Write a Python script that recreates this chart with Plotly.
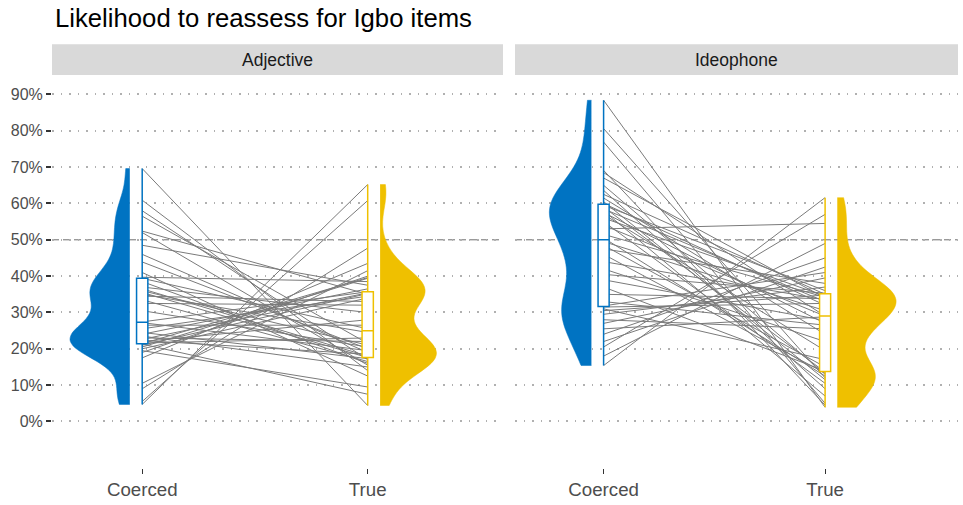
import numpy as np
import plotly.graph_objects as go

# Per-item likelihood to reassess (%), paired by item within each panel
panels = ["Adjective", "Ideophone"]
conditions = ["Coerced", "True"]

adj_coerced = [69.6, 60.9, 58.0, 56.5, 52.4, 52.0, 48.5, 46.0, 43.9, 41.0, 39.7, 39.4,
               38.5, 37.0, 36.5, 36.0, 35.5, 35.0, 34.5, 33.5, 32.5, 30.5, 27.4, 27.2,
               26.5, 25.5, 24.5, 24.0, 23.5, 23.0, 22.6, 22.3, 22.0, 21.6, 21.4, 21.3,
               21.0, 20.5, 20.0, 19.5, 19.0, 17.5, 10.5, 9.0, 5.5, 4.7]
adj_true = [4.4, 14.0, 17.0, 21.5, 35.0, 15.5, 37.5, 19.0, 20.0, 12.5, 38.5, 25.5,
            16.0, 30.0, 18.0, 21.0, 17.6, 24.5, 33.0, 16.5, 32.0, 20.5, 35.7, 19.5,
            26.5, 34.5, 17.3, 36.5, 15.0, 22.0, 35.4, 18.5, 28.0, 23.0, 39.6, 7.5,
            35.2, 39.4, 34.0, 9.5, 40.0, 43.5, 41.5, 47.7, 60.8, 65.2]

ideo_coerced = [88.4, 80.6, 76.9, 68.5, 69.1, 67.0, 65.0, 63.6, 62.5, 61.5, 60.5, 60.0,
                59.5, 59.0, 58.5, 58.0, 57.5, 57.0, 56.0, 55.0, 54.0, 53.0, 51.5, 50.5,
                49.5, 48.5, 47.5, 46.0, 44.0, 42.0, 40.5, 39.0, 37.0, 35.0, 33.0, 31.8,
                31.5, 31.0, 30.5, 29.5, 28.0, 27.0, 25.5, 24.0, 22.0, 20.5, 18.0, 15.4]
ideo_true = [3.9, 12.0, 5.0, 29.0, 4.5, 34.0, 13.0, 9.0, 35.0, 24.0, 11.5, 32.0,
             36.0, 13.6, 33.0, 7.0, 27.0, 19.5, 34.5, 10.5, 29.0, 54.5, 34.2, 12.5,
             30.5, 15.0, 38.0, 13.3, 33.5, 22.0, 35.3, 27.8, 13.9, 33.8, 26.5, 41.0,
             32.5, 17.0, 34.8, 37.0, 25.5, 39.5, 28.8, 45.0, 42.5, 57.0, 49.0, 61.6]

y_ticks = [0, 10, 20, 30, 40, 50, 60, 70, 80, 90]
y_tick_labels = [f"{v}%" for v in y_ticks]
reference_level = 50

BLUE = "#0073C2"
YELLOW = "#EFC000"
FONT = "Liberation Sans, Arial, sans-serif"

# half-violin max extent (data units) per panel/condition
violin_widths = {("Adjective", "Coerced"): 0.53, ("Adjective", "True"): 0.50,
                 ("Ideophone", "Coerced"): 0.38, ("Ideophone", "True"): 0.53}
bw_adjust = 0.8


def nrd0(values):
    v = np.asarray(values, dtype=float)
    iqr = np.subtract(*np.percentile(v, [75, 25]))
    return 0.9 * min(v.std(ddof=1), iqr / 1.34) * len(v) ** -0.2


data = {
    "Adjective": (adj_coerced, adj_true),
    "Ideophone": (ideo_coerced, ideo_true),
}

fig = go.Figure()

# lines live on the base axes; boxes and violins on overlaying axes drawn on top
base_axes = [("x", "y"), ("x2", "y2")]
top_axes = [("x3", "y3"), ("x4", "y4")]

for i, panel in enumerate(panels):
    xa, ya = base_axes[i]
    xt, yt = top_axes[i]
    coerced, true_vals = data[panel]

    lx, ly = [], []
    for c, t in zip(coerced, true_vals):
        lx += [1, 2, None]
        ly += [c, t, None]
    fig.add_trace(go.Scatter(x=lx, y=ly, mode="lines", xaxis=xa, yaxis=ya,
                             line=dict(color="#7A7A7A", width=1),
                             hoverinfo="skip", showlegend=False))

    for pos, (cond, vals, col) in enumerate(zip(conditions, (coerced, true_vals), (BLUE, YELLOW)), start=1):
        fig.add_trace(go.Box(y=vals, x0=pos, width=0.05, xaxis=xt, yaxis=yt,
                             fillcolor="white", line=dict(color=col, width=1.5),
                             boxpoints=False, whiskerwidth=0, quartilemethod="linear",
                             hoverinfo="skip", showlegend=False))
        side = "negative" if cond == "Coerced" else "positive"
        offset = -0.055 if cond == "Coerced" else 0.055
        fig.add_trace(go.Violin(y=vals, x0=pos + offset, side=side,
                                width=violin_widths[(panel, cond)],
                                xaxis=xt, yaxis=yt, fillcolor=col,
                                line=dict(color=col, width=0.5), points=False,
                                spanmode="hard", bandwidth=bw_adjust * nrd0(vals),
                                box_visible=False, meanline_visible=False,
                                scalemode="width", opacity=1,
                                hoverinfo="skip", showlegend=False))

    # reference line at 50%
    fig.add_shape(type="line", xref=xa, yref=ya, x0=0.6, x1=2.6,
                  y0=reference_level, y1=reference_level, layer="below",
                  line=dict(color="#6E6E6E", width=1, dash="7px,4px"))

# facet strips
W, H = 963, 505
ml, mr, mt, mb = 52, 5, 77, 34
pw, ph = W - ml - mr, H - mt - mb
dom_left = [0, (503 - ml) / pw]
dom_right = [(515 - ml) / pw, 1]
strip_y0 = (H - mb - 75) / ph
strip_y1 = (H - mb - 44) / ph
for dom, panel in zip((dom_left, dom_right), panels):
    fig.add_shape(type="rect", xref="paper", yref="paper", x0=dom[0], x1=dom[1],
                  y0=strip_y0, y1=strip_y1, fillcolor="#D9D9D9", line=dict(width=0),
                  layer="below")
    fig.add_annotation(text=panel, xref="paper", yref="paper", x=(dom[0] + dom[1]) / 2,
                       y=(strip_y0 + strip_y1) / 2, showarrow=False,
                       font=dict(family=FONT, size=17.5, color="#1A1A1A"),
                       xanchor="center", yanchor="middle")

fig.add_annotation(text="Likelihood to reassess for Igbo items", xref="paper", yref="paper",
                   x=(53 - ml) / pw, y=(H - mb - 18) / ph, showarrow=False,
                   xanchor="left", yanchor="middle",
                   font=dict(family=FONT, size=25.7, color="black"))

x_range = [0.6, 2.6]
y_range = [-12.8, 94.8]
xcommon = dict(range=x_range, tickvals=[1, 2], ticktext=conditions, ticks="outside",
               ticklen=5, tickcolor="#333333", tickwidth=1, showgrid=False, zeroline=False,
               showline=False, tickfont=dict(family=FONT, size=18.7, color="#4D4D4D"))
ycommon = dict(range=y_range, tickvals=y_ticks, showgrid=True,
               gridcolor="#B0B0B0", gridwidth=1.5, griddash="1.5px,7px",
               zeroline=False, showline=False)
hidden_x = dict(range=x_range, visible=False, showgrid=False, zeroline=False)
hidden_y = dict(range=y_range, visible=False, showgrid=False, zeroline=False)

fig.update_layout(
    width=W, height=H,
    margin=dict(l=ml, r=mr, t=mt, b=mb),
    plot_bgcolor="white", paper_bgcolor="white",
    violinmode="overlay", boxmode="overlay",
    xaxis=dict(domain=dom_left, anchor="y", **xcommon),
    xaxis2=dict(domain=dom_right, anchor="y2", **xcommon),
    yaxis=dict(anchor="x", ticktext=y_tick_labels, ticks="outside", ticklen=5,
               tickcolor="#333333", tickwidth=1.5,
               tickfont=dict(family=FONT, size=16, color="#4D4D4D"), **ycommon),
    yaxis2=dict(anchor="x2", showticklabels=False, ticks="", **ycommon),
    xaxis3=dict(overlaying="x", anchor="y3", **hidden_x),
    yaxis3=dict(overlaying="y", anchor="x3", **hidden_y),
    xaxis4=dict(overlaying="x2", anchor="y4", **hidden_x),
    yaxis4=dict(overlaying="y2", anchor="x4", **hidden_y),
    showlegend=False,
)

fig.write_html("out.html")
